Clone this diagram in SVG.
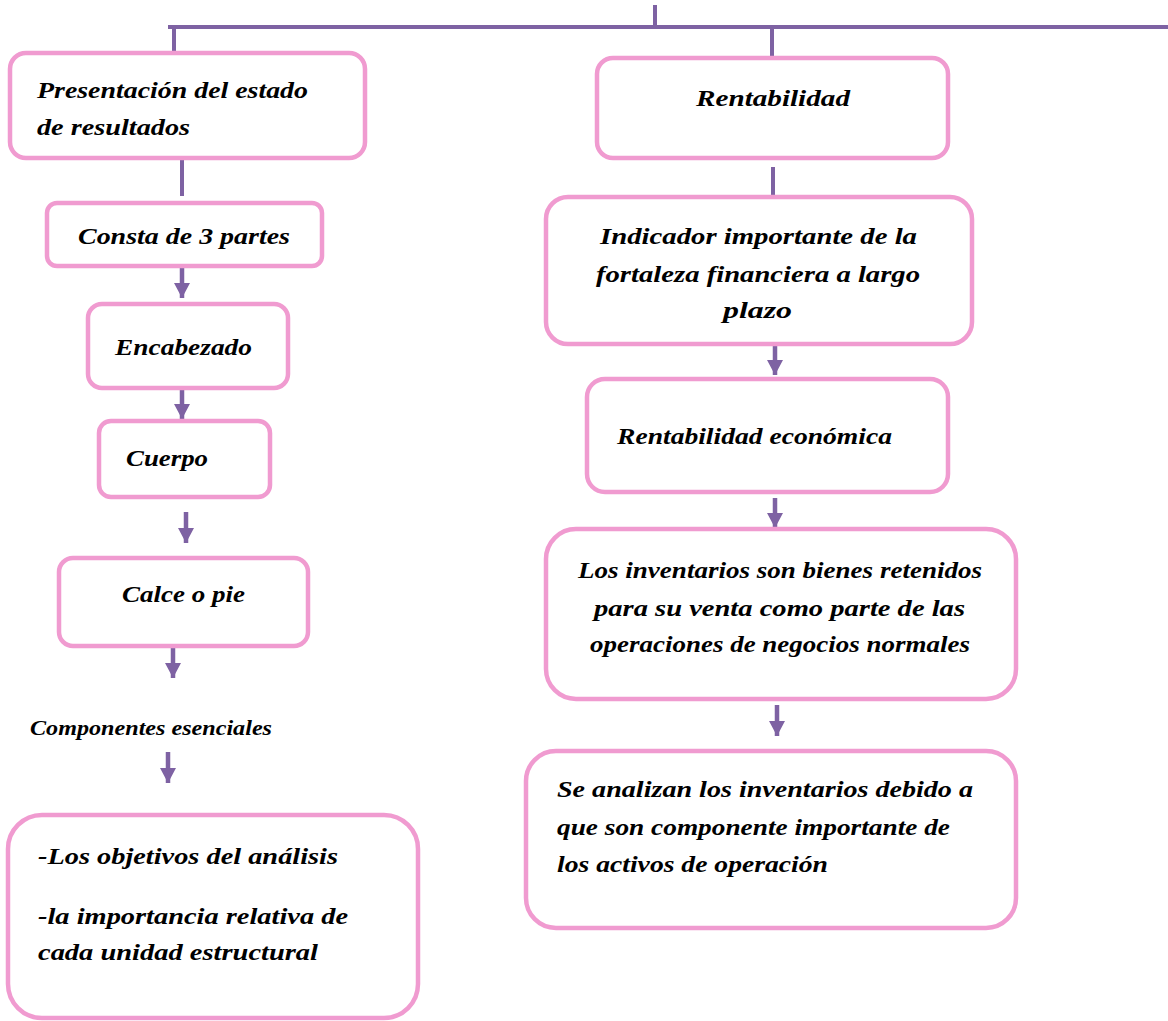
<svg xmlns="http://www.w3.org/2000/svg" width="1168" height="1021" viewBox="0 0 1168 1021">
<style>
.box{fill:#fff;stroke:#F09BD0;stroke-width:4.5}
.ln{stroke:#7E62A3;stroke-width:4;fill:none}
.ar{stroke:#7E62A3;stroke-width:4.5;fill:none;marker-end:url(#ah)}
text{font-family:"Liberation Serif","DejaVu Serif",serif;font-weight:bold;font-style:italic;font-size:24px;fill:#000}
.sm{font-size:20px}
</style>
<defs>
<marker id="ah" viewBox="0 0 15 16" refX="15" refY="8" markerWidth="15" markerHeight="16" markerUnits="userSpaceOnUse" orient="auto">
<path d="M0,0 L15,8 L0,16 z" fill="#7E62A3"/>
</marker>
</defs>
<g id="connectors">
<line class="ln" x1="655" y1="5" x2="655" y2="27"/>
<line class="ln" x1="168" y1="27" x2="1168" y2="27"/>
<line class="ln" x1="174" y1="27" x2="174" y2="53"/>
<line class="ln" x1="772" y1="27" x2="772" y2="58"/>
<line class="ln" x1="182" y1="158" x2="182" y2="196"/>
<line class="ar" x1="182" y1="268" x2="182" y2="298"/>
<line class="ar" x1="182" y1="388" x2="182" y2="419"/>
<line class="ar" x1="186" y1="512" x2="186" y2="543"/>
<line class="ar" x1="173" y1="647" x2="173" y2="678"/>
<line class="ar" x1="168" y1="752" x2="168" y2="783"/>
<line class="ln" x1="773" y1="167" x2="773" y2="195"/>
<line class="ar" x1="775" y1="345" x2="775" y2="375"/>
<line class="ar" x1="775" y1="498" x2="775" y2="528"/>
<line class="ar" x1="777" y1="705" x2="777" y2="736"/>
</g>
<g id="presentacion">
<rect class="box" x="10" y="53" width="355" height="105" rx="16"/>
<text x="37" y="98" textLength="271" lengthAdjust="spacingAndGlyphs">Presentación del estado</text>
<text x="37" y="135" textLength="153" lengthAdjust="spacingAndGlyphs">de resultados</text>
</g>
<g id="consta">
<rect class="box" x="47" y="203" width="275" height="63" rx="10"/>
<text x="78" y="244" textLength="212" lengthAdjust="spacingAndGlyphs">Consta de 3 partes</text>
</g>
<g id="encabezado">
<rect class="box" x="88" y="304" width="200" height="84" rx="14"/>
<text x="115" y="355" textLength="137" lengthAdjust="spacingAndGlyphs">Encabezado</text>
</g>
<g id="cuerpo">
<rect class="box" x="99" y="421" width="171" height="76" rx="12"/>
<text x="126" y="466" textLength="82" lengthAdjust="spacingAndGlyphs">Cuerpo</text>
</g>
<g id="calce">
<rect class="box" x="59" y="558" width="249" height="88" rx="14"/>
<text x="122" y="602" textLength="123" lengthAdjust="spacingAndGlyphs">Calce o pie</text>
</g>
<g id="componentes">
<text class="sm" x="30" y="735" textLength="242" lengthAdjust="spacingAndGlyphs">Componentes esenciales</text>
</g>
<g id="objetivos">
<rect class="box" x="8" y="815" width="410" height="203" rx="34"/>
<text x="38" y="864" textLength="300" lengthAdjust="spacingAndGlyphs">-Los objetivos del análisis</text>
<text x="38" y="924" textLength="310" lengthAdjust="spacingAndGlyphs">-la importancia relativa de</text>
<text x="38" y="960" textLength="280" lengthAdjust="spacingAndGlyphs">cada unidad estructural</text>
</g>
<g id="rentabilidad">
<rect class="box" x="597" y="58" width="351" height="100" rx="16"/>
<text x="696" y="106" textLength="154" lengthAdjust="spacingAndGlyphs">Rentabilidad</text>
</g>
<g id="indicador">
<rect class="box" x="546" y="197" width="426" height="147" rx="22"/>
<text x="600" y="244" textLength="317" lengthAdjust="spacingAndGlyphs">Indicador importante de la</text>
<text x="596" y="282" textLength="324" lengthAdjust="spacingAndGlyphs">fortaleza financiera a largo</text>
<text x="723" y="318" textLength="69" lengthAdjust="spacingAndGlyphs">plazo</text>
</g>
<g id="economica">
<rect class="box" x="587" y="379" width="361" height="113" rx="18"/>
<text x="617" y="444" textLength="275" lengthAdjust="spacingAndGlyphs">Rentabilidad económica</text>
</g>
<g id="inventarios">
<rect class="box" x="546" y="529" width="470" height="170" rx="30"/>
<text x="578" y="578" textLength="404" lengthAdjust="spacingAndGlyphs">Los inventarios son bienes retenidos</text>
<text x="594" y="616" textLength="371" lengthAdjust="spacingAndGlyphs">para su venta como parte de las</text>
<text x="590" y="652" textLength="380" lengthAdjust="spacingAndGlyphs">operaciones de negocios normales</text>
</g>
<g id="analizan">
<rect class="box" x="526" y="751" width="490" height="177" rx="30"/>
<text x="557" y="797" textLength="416" lengthAdjust="spacingAndGlyphs">Se analizan los inventarios debido a</text>
<text x="557" y="835" textLength="393" lengthAdjust="spacingAndGlyphs">que son componente importante de</text>
<text x="557" y="872" textLength="271" lengthAdjust="spacingAndGlyphs">los activos de operación</text>
</g>
</svg>
